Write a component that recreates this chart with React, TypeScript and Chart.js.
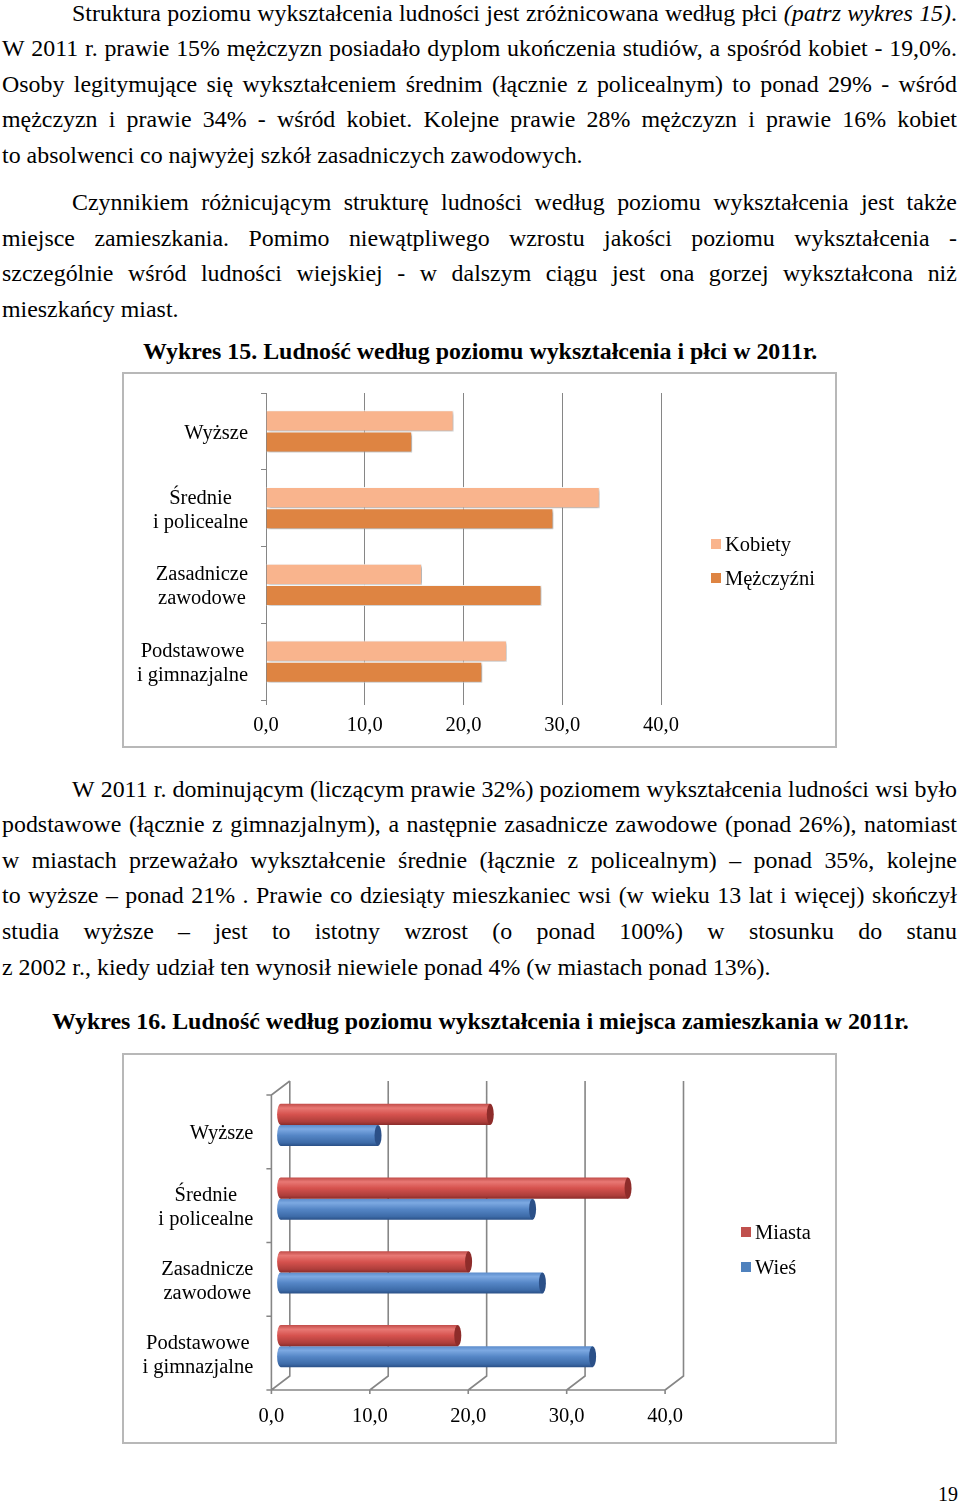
import React, { useEffect, useRef } from 'react';
import { Chart, registerables } from 'chart.js';

Chart.register(...registerables);

const SERIF = '"Liberation Serif", "Times New Roman", Times, serif';

// ---------- Data: Wykres 15 ----------
const categories: string[][] = [
  ['Wyższe'],
  ['Średnie', 'i policealne'],
  ['Zasadnicze', 'zawodowe'],
  ['Podstawowe', 'i gimnazjalne'],
];
const genderSeries = ['Kobiety', 'Mężczyźni'];
const kobiety = [19.0, 33.8, 15.8, 24.4];
const mezczyzni = [14.8, 29.1, 27.9, 21.9];

// ---------- Data: Wykres 16 ----------
const placeSeries = ['Miasta', 'Wieś'];
const miasta = [21.3, 35.3, 19.1, 18.0];
const wies = [9.9, 25.6, 26.6, 31.7];

// ---------- Axis ----------
const xMin = 0;
const xMax = 40;
const xStep = 10;
const xTickValues = [0, 10, 20, 30, 40];
const fmt = (v: number) => v.toFixed(1).replace('.', ',');

// ---------- Colours ----------
const C_KOB = '#F9B48D';
const C_MEZ = '#DE8442';
const C_MIA = '#C0504D';
const C_WIE = '#4F81BD';
const GRID = '#868686';

const LABEL_FONT = `20.5px ${SERIF}`;

function categoryLabelPlugin(dx: number, dy: number) {
  return {
    id: 'catLabels',
    afterDraw(chart: any) {
      const ctx = chart.ctx;
      const ys = chart.scales.y;
      const xs = chart.scales.x;
      const labels = chart.data.labels as string[][];
      const rightEdge = xs.getPixelForValue(0) - dx - 18;
      ctx.save();
      ctx.font = LABEL_FONT;
      ctx.fillStyle = '#000';
      ctx.textAlign = 'center';
      ctx.textBaseline = 'middle';
      labels.forEach((lines, i) => {
        const cy = ys.getPixelForValue(i) + dy + 2;
        const widest = Math.max(...lines.map((l) => ctx.measureText(l).width));
        const cx = rightEdge - widest / 2;
        lines.forEach((l, k) => {
          ctx.fillText(l, cx, cy + (k - (lines.length - 1) / 2) * 24);
        });
      });
      ctx.restore();
    },
  };
}

const shadowPlugin = {
  id: 'barShadow',
  beforeDatasetsDraw(chart: any) {
    const c = chart.ctx;
    c.save();
    c.shadowColor = 'rgba(0,0,0,0.35)';
    c.shadowBlur = 3;
    c.shadowOffsetX = 1.5;
    c.shadowOffsetY = 1.5;
  },
  afterDatasetsDraw(chart: any) {
    chart.ctx.restore();
  },
};

const DX = 9.2;
const DY = 7;
const CAT_PCT_3D = 0.57;

const box3dPlugin = {
  id: 'box3d',
  beforeDatasetsDraw(chart: any) {
    const ctx = chart.ctx;
    const xs = chart.scales.x;
    const { top, bottom } = chart.chartArea;
    const x0 = xs.getPixelForValue(xMin);
    const x1 = xs.getPixelForValue(xMax);
    ctx.save();
    ctx.strokeStyle = GRID;
    ctx.lineWidth = 1.6;
    ctx.beginPath();
    xTickValues.forEach((v) => {
      const xm = xs.getPixelForValue(v);
      ctx.moveTo(xm + DX, top - DY);
      ctx.lineTo(xm + DX, bottom - DY);
      ctx.lineTo(xm - DX, bottom + DY);
      ctx.lineTo(xm - DX, bottom + DY + 4);
    });
    ctx.moveTo(x0 - DX, bottom + DY);
    ctx.lineTo(x1 - DX, bottom + DY);
    ctx.moveTo(x0 + DX, top - DY);
    ctx.lineTo(x0 - DX, top + DY);
    ctx.lineTo(x0 - DX, bottom + DY);
    const n = chart.data.labels.length;
    for (let k = 0; k <= n; k++) {
      const y = top + (k * (bottom - top)) / n + DY;
      ctx.moveTo(x0 - DX - 5, y);
      ctx.lineTo(x0 - DX, y);
    }
    ctx.stroke();
    ctx.restore();
  },
  afterDatasetsDraw(chart: any) {
    const ctx = chart.ctx;
    const caps = ['#8E2C2A', '#2B5088'];
    ctx.save();
    chart.data.datasets.forEach((ds: any, di: number) => {
      const meta = chart.getDatasetMeta(di);
      meta.data.forEach((el: any) => {
        const { x, y, height, base } = el.getProps(['x', 'y', 'height', 'base'], true);
        if (![x, y, height, base].every((v) => Number.isFinite(v))) return;
        ctx.beginPath();
        ctx.ellipse(base, y, 3.5, Math.abs(height) / 2, 0, 0, Math.PI * 2);
        ctx.fillStyle = el.options.backgroundColor;
        ctx.fill();
        ctx.beginPath();
        ctx.ellipse(x, y, 3.5, Math.abs(height) / 2, 0, 0, Math.PI * 2);
        ctx.fillStyle = caps[di];
        ctx.fill();
      });
    });
    ctx.restore();
  },
  afterDraw(chart: any) {
    const ctx = chart.ctx;
    const xs = chart.scales.x;
    const { bottom } = chart.chartArea;
    ctx.save();
    ctx.font = LABEL_FONT;
    ctx.fillStyle = '#000';
    ctx.textAlign = 'center';
    ctx.textBaseline = 'middle';
    xTickValues.forEach((v) => {
      ctx.fillText(fmt(v), xs.getPixelForValue(v) - DX, bottom + DY + 27);
    });
    ctx.restore();
  },
};

function cylinderFill(stops: [number, string][], solid: string) {
  return (c: any) => {
    const chart = c.chart;
    const ys = chart.scales && chart.scales.y;
    if (!ys || typeof c.dataIndex !== 'number') return solid;
    const n = chart.data.labels.length;
    const band = (ys.bottom - ys.top) / n;
    const barH = (band * CAT_PCT_3D) / 2;
    const center = ys.getPixelForValue(c.dataIndex);
    const y0 = center - barH + (c.datasetIndex || 0) * barH;
    if (!Number.isFinite(y0) || !Number.isFinite(barH) || barH <= 0) return solid;
    const g = chart.ctx.createLinearGradient(0, y0, 0, y0 + barH);
    stops.forEach(([o, col]) => g.addColorStop(o, col));
    return g;
  };
}

function GenderChart() {
  const ref = useRef<HTMLCanvasElement>(null);
  useEffect(() => {
    if (!ref.current) return;
    const chart = new Chart(ref.current, {
      type: 'bar',
      data: {
        labels: categories as any,
        datasets: [
          {
            label: genderSeries[0],
            data: kobiety,
            backgroundColor: C_KOB,
            borderColor: 'rgba(255,255,255,0.9)',
            borderWidth: 1,
            categoryPercentage: 0.55,
            barPercentage: 1,
          },
          {
            label: genderSeries[1],
            data: mezczyzni,
            backgroundColor: C_MEZ,
            borderColor: 'rgba(255,255,255,0.9)',
            borderWidth: 1,
            categoryPercentage: 0.55,
            barPercentage: 1,
          },
        ],
      },
      options: {
        indexAxis: 'y',
        responsive: false,
        animation: false,
        layout: { padding: { left: 0, top: 19, right: 174, bottom: 0 } },
        plugins: { legend: { display: false }, tooltip: { enabled: false } },
        scales: {
          x: {
            type: 'linear',
            min: xMin,
            max: xMax,
            afterFit: (s: any) => {
              s.height = 46;
            },
            ticks: {
              stepSize: xStep,
              padding: 8,
              color: '#000',
              font: { family: SERIF, size: 20.5 },
              callback: (v: any) => fmt(Number(v)),
            },
            grid: { color: GRID, lineWidth: 1, tickLength: 5, drawTicks: true },
            border: { display: false },
          },
          y: {
            type: 'category',
            afterFit: (s: any) => {
              s.width = 142;
            },
            ticks: { color: 'rgba(0,0,0,0)', font: { family: SERIF, size: 1, lineHeight: 1 }, padding: 0 },
            grid: { drawOnChartArea: false, offset: true, tickLength: 5, color: GRID },
            border: { display: true, color: GRID },
          },
        },
      } as any,
      plugins: [shadowPlugin, categoryLabelPlugin(0, 0)],
    });
    return () => chart.destroy();
  }, []);
  return (
    <canvas
      ref={ref}
      width={711}
      height={372}
      style={{ position: 'absolute', left: 124, top: 374, width: 711, height: 372 }}
    />
  );
}

function PlaceChart() {
  const ref = useRef<HTMLCanvasElement>(null);
  useEffect(() => {
    if (!ref.current) return;
    const chart = new Chart(ref.current, {
      type: 'bar',
      data: {
        labels: categories as any,
        datasets: [
          {
            label: placeSeries[0],
            data: miasta,
            backgroundColor: cylinderFill(
              [
                [0, '#C24D4A'],
                [0.2, '#E87874'],
                [0.5, '#D6524E'],
                [0.85, '#AE3E3B'],
                [1, '#8C2D2B'],
              ],
              C_MIA
            ),
            borderWidth: 0,
            categoryPercentage: CAT_PCT_3D,
            barPercentage: 1,
          },
          {
            label: placeSeries[1],
            data: wies,
            backgroundColor: cylinderFill(
              [
                [0, '#5A8BCB'],
                [0.2, '#7DA9E2'],
                [0.5, '#5586C6'],
                [0.85, '#3D6BA8'],
                [1, '#2A5087'],
              ],
              C_WIE
            ),
            borderWidth: 0,
            categoryPercentage: CAT_PCT_3D,
            barPercentage: 1,
          },
        ],
      },
      options: {
        indexAxis: 'y',
        responsive: false,
        animation: false,
        layout: { padding: { left: 0, top: 33, right: 160.7, bottom: 0 } },
        plugins: { legend: { display: false }, tooltip: { enabled: false } },
        scales: {
          x: {
            type: 'linear',
            min: xMin,
            max: xMax,
            afterFit: (s: any) => {
              s.height = 59;
            },
            ticks: { display: false, stepSize: xStep },
            grid: { display: false },
            border: { display: false },
          },
          y: {
            type: 'category',
            afterFit: (s: any) => {
              s.width = 156.6;
            },
            ticks: { display: false },
            grid: { display: false },
            border: { display: false },
          },
        },
      } as any,
      plugins: [box3dPlugin, categoryLabelPlugin(DX, DY)],
    });
    return () => chart.destroy();
  }, []);
  return (
    <canvas
      ref={ref}
      width={711}
      height={387}
      style={{ position: 'absolute', left: 124, top: 1055, width: 711, height: 387 }}
    />
  );
}

// ---------- Page text ----------
const FS = 23.9;
const LH = 28;
const BASE_OFF = (LH - 1.107 * FS) / 2 + 0.891 * FS;

function renderWord(w: string, key: number) {
  const parts = w.split(/(\*[^*]+\*)/).filter((p) => p.length > 0);
  return (
    <span key={key}>
      {parts.map((p, i) =>
        p.startsWith('*') ? (
          <i key={i}>{p.slice(1, -1)}</i>
        ) : (
          <React.Fragment key={i}>{p}</React.Fragment>
        )
      )}
    </span>
  );
}

function TextLine(props: {
  text: string;
  baseline: number;
  left: number;
  right?: number;
  justify?: boolean;
  bold?: boolean;
}) {
  const { text, baseline, left, justify, bold } = props;
  const right = props.right ?? 957;
  const words = text.split(' ');
  const style: React.CSSProperties = {
    position: 'absolute',
    left,
    top: baseline - BASE_OFF,
    fontSize: FS,
    lineHeight: `${LH}px`,
    height: LH,
    fontFamily: SERIF,
    fontWeight: bold ? 'bold' : 'normal',
    color: '#000',
    whiteSpace: 'pre',
  };
  if (justify) {
    return (
      <div style={{ ...style, width: right - left, display: 'flex', justifyContent: 'space-between' }}>
        {words.map((w, i) => renderWord(w, i))}
      </div>
    );
  }
  return <div style={style}>{words.map((w, i) => [i > 0 ? ' ' : null, renderWord(w, i)])}</div>;
}

type L = { t: string; y: number; x?: number; j?: boolean; b?: boolean };

const textLines: L[] = [
  { t: 'Struktura poziomu wykształcenia ludności jest zróżnicowana według płci *(patrz* *wykres* *15)*.', y: 20.7, x: 72, j: true },
  { t: 'W 2011 r. prawie 15% mężczyzn posiadało dyplom ukończenia studiów, a spośród kobiet - 19,0%.', y: 56.3, j: true },
  { t: 'Osoby legitymujące się wykształceniem średnim (łącznie z policealnym) to ponad 29% - wśród', y: 91.9, j: true },
  { t: 'mężczyzn i prawie 34% - wśród kobiet. Kolejne prawie 28% mężczyzn i prawie 16% kobiet', y: 127.5, j: true },
  { t: 'to absolwenci co najwyżej szkół zasadniczych zawodowych.', y: 163.1 },
  { t: 'Czynnikiem różnicującym strukturę ludności według poziomu wykształcenia jest także', y: 210.1, x: 72, j: true },
  { t: 'miejsce zamieszkania. Pomimo niewątpliwego wzrostu jakości poziomu wykształcenia -', y: 245.7, j: true },
  { t: 'szczególnie wśród ludności wiejskiej - w dalszym ciągu jest ona gorzej wykształcona niż', y: 281.3, j: true },
  { t: 'mieszkańcy miast.', y: 316.9 },
  { t: 'Wykres 15. Ludność według poziomu wykształcenia i płci w 2011r.', y: 358.8, x: 143, b: true },
  { t: 'W 2011 r. dominującym (liczącym prawie 32%) poziomem wykształcenia ludności wsi było', y: 796.7, x: 72, j: true },
  { t: 'podstawowe (łącznie z gimnazjalnym), a następnie zasadnicze zawodowe (ponad 26%), natomiast', y: 832.3, j: true },
  { t: 'w miastach przeważało wykształcenie średnie (łącznie z policealnym) – ponad 35%, kolejne', y: 867.9, j: true },
  { t: 'to wyższe – ponad 21% . Prawie co dziesiąty mieszkaniec wsi (w wieku 13 lat i więcej) skończył', y: 903.5, j: true },
  { t: 'studia wyższe – jest to istotny wzrost (o ponad 100%) w stosunku do stanu', y: 939.1, j: true },
  { t: 'z 2002 r., kiedy udział ten wynosił niewiele ponad 4% (w miastach ponad 13%).', y: 974.7 },
  { t: 'Wykres 16. Ludność według poziomu wykształcenia i miejsca zamieszkania w 2011r.', y: 1028.7, x: 52, b: true },
];

function LegendItem(props: { x: number; y: number; color: string; label: string }) {
  const { x, y, color, label } = props;
  return (
    <>
      <div style={{ position: 'absolute', left: x, top: y - 5, width: 10, height: 10, background: color }} />
      <div
        style={{
          position: 'absolute',
          left: x + 14,
          top: y - 12,
          fontFamily: SERIF,
          fontSize: 20.5,
          lineHeight: '24px',
          whiteSpace: 'nowrap',
          color: '#000',
        }}
      >
        {label}
      </div>
    </>
  );
}

const frameStyle = (left: number, top: number, w: number, h: number): React.CSSProperties => ({
  position: 'absolute',
  left,
  top,
  width: w,
  height: h,
  border: '2px solid #B8B8B8',
  boxSizing: 'border-box',
  background: '#fff',
});

export default function App() {
  return (
    <div
      style={{
        position: 'absolute',
        left: 0,
        top: 0,
        width: 960,
        height: 1501,
        background: '#fff',
        overflow: 'hidden',
      }}
    >
      {textLines.map((l, i) => (
        <TextLine key={i} text={l.t} baseline={l.y} left={l.x ?? 2} justify={l.j} bold={l.b} />
      ))}

      <div style={frameStyle(122, 372, 715, 376)} />
      <GenderChart />
      <LegendItem x={711} y={543.5} color={C_KOB} label={genderSeries[0]} />
      <LegendItem x={711} y={578} color={C_MEZ} label={genderSeries[1]} />

      <div style={frameStyle(122, 1053, 715, 391)} />
      <PlaceChart />
      <LegendItem x={741} y={1232} color={C_MIA} label={placeSeries[0]} />
      <LegendItem x={741} y={1267} color={C_WIE} label={placeSeries[1]} />

      <div
        style={{
          position: 'absolute',
          left: 900,
          top: 1482,
          width: 58,
          textAlign: 'right',
          fontFamily: SERIF,
          fontSize: 20,
          lineHeight: '24px',
          color: '#000',
        }}
      >
        19
      </div>
    </div>
  );
}
